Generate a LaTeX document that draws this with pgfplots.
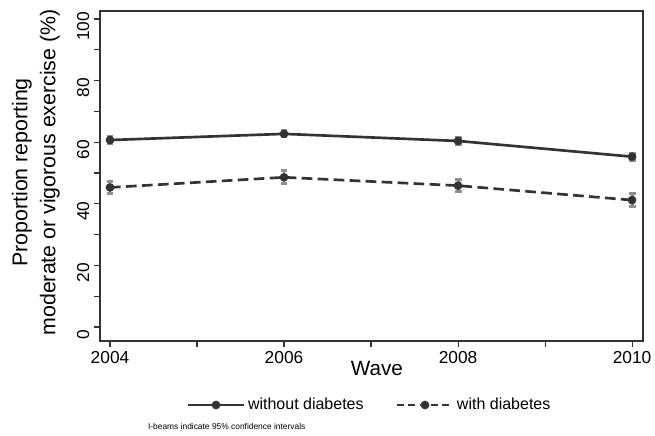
\documentclass[border=0pt]{standalone}
\usepackage{pgfplots}
\pgfplotsset{compat=1.18}
\usepackage{fontspec}
\setmainfont{Liberation Sans}
\definecolor{lc}{HTML}{333333}
\definecolor{eb}{HTML}{8F8F8F}
\pgfplotsset{dashleg/.style={legend image code/.code={\draw[mark repeat=2,mark phase=2,##1,dash pattern=on 5pt off 3.5pt] plot coordinates {(0pt,0pt) (21pt,0pt) (42pt,0pt)};}}}
\begin{document}
\begin{tikzpicture}
\useasboundingbox (-75pt,-70.5pt) rectangle (416.25pt,255.75pt);
\begin{axis}[at={(0,0)}, anchor=south west, scale only axis,
  width=407.25pt, height=247.5pt,
  xmin=2003.885, xmax=2010.126, ymin=-4.55, ymax=102.6,
  xtick={2004,2006,2008,2010}, minor xtick={2005,2007,2009},
  ytick={0,20,...,100}, minor ytick={10,30,...,90},
  xticklabels={2004,2006,2008,2010},
  tick align=outside, major tick length=4.5pt, minor tick length=4.5pt,
  xtick pos=bottom, ytick pos=left,
  every tick/.style={lc, line width=0.8pt},
  every minor tick/.style={lc, line width=0.8pt},
  axis line style={lc, line width=0.8pt},
  /pgf/number format/assume math mode=true,
  /pgf/number format/1000 sep={},
  ticklabel style={font=\fontsize{13}{15}\selectfont, text=black},
  yticklabel style={rotate=90, anchor=south, xshift=-5.5pt},
  legend style={at={(axis description cs:0.497,-0.194)}, anchor=center, draw=none,
    fill=none, font=\fontsize{12}{14}\selectfont,
    /tikz/every even column/.append style={column sep=22pt},
    /tikz/every odd column/.append style={inner xsep=6pt}},
  legend columns=2,
  legend image code/.code={\draw[mark repeat=2,mark phase=2,#1] plot coordinates {(0pt,0pt) (21pt,0pt) (42pt,0pt)};},
  clip=false,
]
\addplot[lc, line width=2pt, mark=*, mark size=2.2pt, mark options={solid, fill=lc, draw=lc}]
  coordinates {(2004,60.7) (2006,62.7) (2008,60.4) (2010,55.3)};
\addlegendentry{without diabetes}
\addplot[lc, line width=2pt, dash pattern=on 8pt off 4pt, mark=*, mark size=2.2pt, mark options={solid, fill=lc, draw=lc}, dashleg]
  coordinates {(2004,45.3) (2006,48.6) (2008,45.9) (2010,41.2)};
\addlegendentry{with diabetes}
\addplot[forget plot, draw=none, mark=none,
  error bars/.cd, y dir=both, y explicit,
  error bar style={eb, line width=2.2pt},
  error mark options={eb, rotate=90, mark size=2.6pt, line width=2.2pt}]
  coordinates {(2004,60.7) +- (0,1.1) (2006,62.7) +- (0,1.0) (2008,60.4) +- (0,1.1) (2010,55.3) +- (0,1.1)};
\addplot[forget plot, draw=none, mark=none,
  error bars/.cd, y dir=both, y explicit,
  error bar style={eb, line width=2.2pt},
  error mark options={eb, rotate=90, mark size=2.6pt, line width=2.2pt}]
  coordinates {(2004,45.3) +- (0,2.0) (2006,48.6) +- (0,2.1) (2008,45.9) +- (0,2.0) (2010,41.2) +- (0,2.0)};
\node[font=\fontsize{15.5}{17}\selectfont] at (axis description cs:0.510,-0.082) {Wave};
\node[rotate=90, align=center, font=\fontsize{16}{21}\selectfont] at (axis description cs:-0.118,0.511)
  {Proportion reporting\\moderate or vigorous exercise (\%)};
\node[anchor=west, inner sep=0pt, font=\fontsize{6.3}{7}\selectfont] at (axis description cs:0.088,-0.26) {I-beams indicate 95\% confidence intervals};
\end{axis}
\end{tikzpicture}
\end{document}
